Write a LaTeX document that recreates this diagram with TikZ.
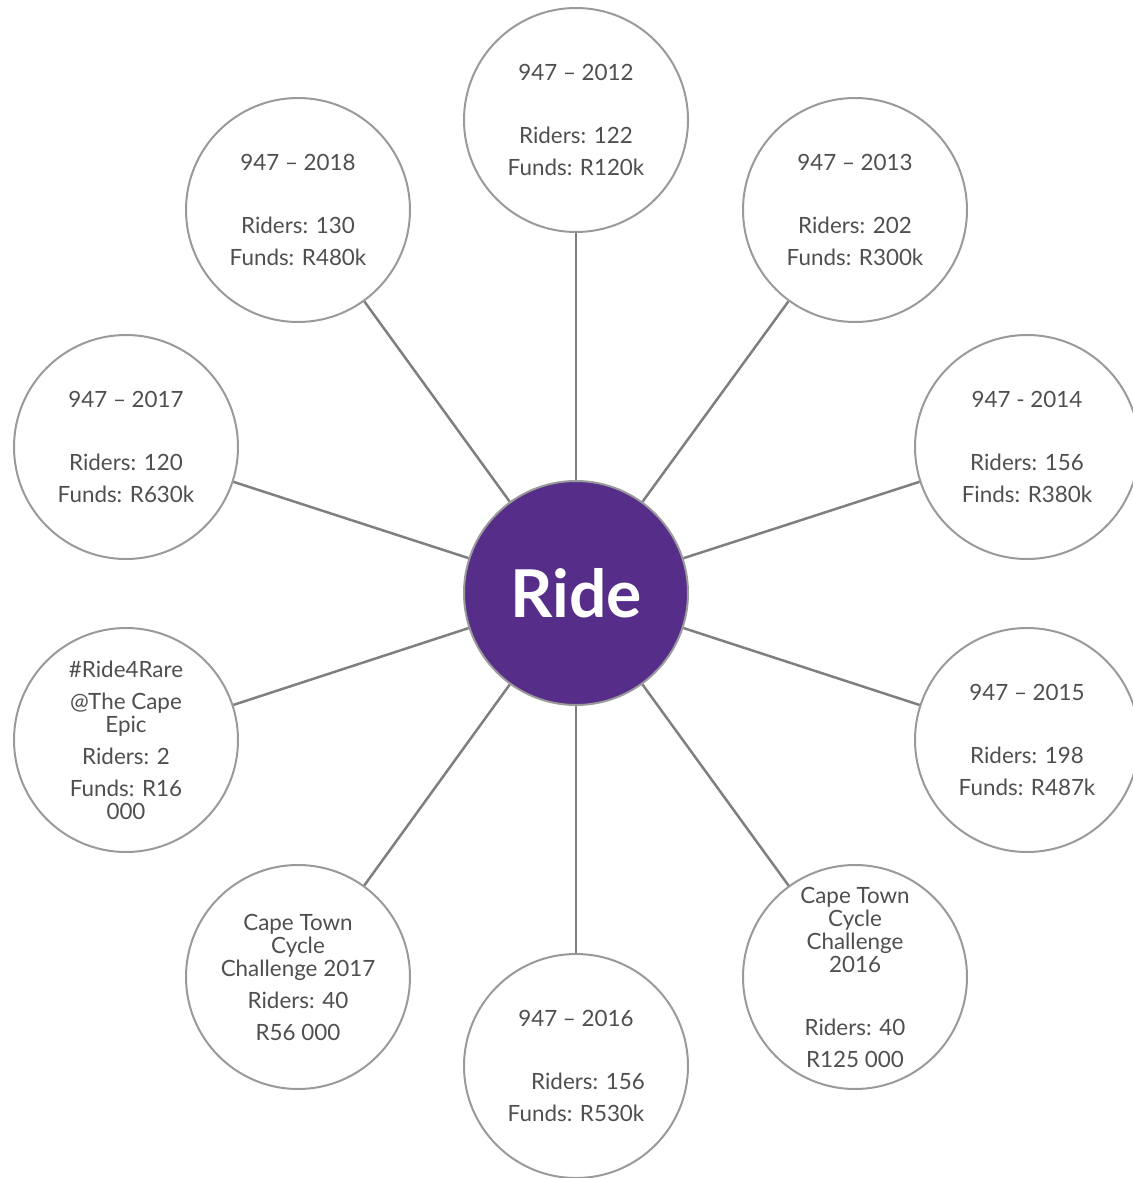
\documentclass[tikz,border=0pt]{standalone}
\usepackage{fontspec}
\setmainfont{Lato}
\usepackage{tikz}
\usetikzlibrary{positioning}
\definecolor{ridepurple}{HTML}{562D89}
\definecolor{rimgray}{HTML}{9A9A9A}
\definecolor{spokegray}{HTML}{7F7F7F}
\definecolor{txtgray}{HTML}{4F4F4F}

\begin{document}
\begin{tikzpicture}[x=0.5pt,y=-0.5pt,
    event/.style={circle,draw=rimgray,line width=1pt,fill=white,minimum size=112pt,
                  inner sep=0pt,align=center,text=txtgray,
                  font=\fontsize{11.2}{11.5}\selectfont},
    hub/.style={circle,draw=rimgray,line width=1pt,fill=ridepurple,minimum size=112pt,
                inner sep=0pt,text=white,font=\bfseries\fontsize{33}{33}\selectfont},
    spoke/.style={draw=spokegray,line width=1.25pt}
  ]
  \useasboundingbox (0,0) rectangle (1133,1178);

  % centre
  \node[hub] (ride) at (576,593) {Ride};

  % yearly rides
  \node[event] (y2012) at (576,120) {947 -- 2012\\[20pt]Riders: 122\\[4.5pt]Funds: R120k};
  \node[event] (y2013) at (855,210) {947 -- 2013\\[20pt]Riders: 202\\[4.5pt]Funds: R300k};
  \node[event] (y2014) at (1027,447) {947 - 2014\\[20pt]Riders: 156\\[4.5pt]Finds: R380k};
  \node[event] (y2015) at (1027,740) {947 -- 2015\\[20pt]Riders: 198\\[4.5pt]Funds: R487k};
  \node[event] (ct2016) at (855,977) {Cape Town\\Cycle\\Challenge\\2016\\[20pt]Riders: 40\\[4.5pt]R125 000};
  \node[event] (y2016) at (576,1066) {947 -- 2016\\[20pt]\hspace*{12pt}Riders: 156\\[4.5pt]Funds: R530k};
  \node[event] (ct2017) at (298,977) {Cape Town\\Cycle\\Challenge 2017\\[4.5pt]Riders: 40\\[4.5pt]R56 000};
  \node[event] (epic) at (126,740) {\#Ride4Rare\\[4.5pt]@The Cape\\Epic\\[4.5pt]Riders: 2\\[4.5pt]Funds: R16\\000};
  \node[event] (y2017) at (126,447) {947 -- 2017\\[20pt]Riders: 120\\[4.5pt]Funds: R630k};
  \node[event] (y2018) at (298,210) {947 -- 2018\\[20pt]Riders: 130\\[4.5pt]Funds: R480k};

  \foreach \n in {y2012,y2013,y2014,y2015,ct2016,y2016,ct2017,epic,y2017,y2018}
    \draw[spoke] (ride) -- (\n);
\end{tikzpicture}
\end{document}
